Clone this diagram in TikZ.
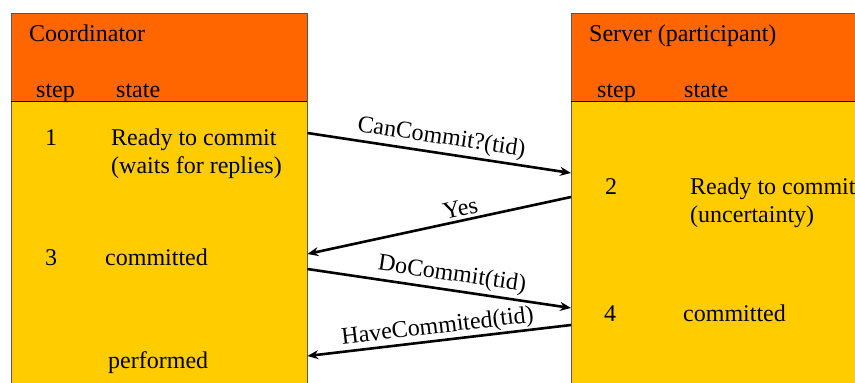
\documentclass[tikz,border=0pt]{standalone}
\usepackage{fontspec}
\setmainfont{Liberation Serif}
\usetikzlibrary{arrows.meta,calc,positioning}
\definecolor{kopf}{HTML}{FF6600}
\definecolor{rumpf}{HTML}{FFCC00}
\tikzset{
    >={Stealth[length=11pt,width=9pt]},
    kasse/.style={
           rectangle,
           draw=gray!70!black, thin,
           anchor=north west,
           inner sep=0pt},
    hoved/.style={
           kasse,
           fill=kopf,
           minimum height=88pt},
    krop/.style={
           kasse,
           fill=rumpf,
           minimum height=300pt},
    txt/.style={
           font=\fontsize{24}{28}\selectfont,
           inner sep=0pt,
           anchor=base west},
    pil/.style={
           ->,
           line width=2.6pt},
    besked/.style={
           font=\fontsize{24}{28}\selectfont,
           sloped, above,
           inner sep=3pt}
}
\begin{document}
\begin{tikzpicture}[x=1pt, y=-1pt]

        \useasboundingbox (0,0) rectangle (855,383);
        \clip (0,0) rectangle (855,383);

        % coordinator side
        \node[krop, minimum width=296pt] (cbody) at (11,101) {};
        \node[hoved, minimum width=296pt] (chead) at (11,13) {};
        \draw[black, thin] (chead.south west) -- (chead.south east);

        % server side
        \node[krop, minimum width=300pt] (sbody) at (571,101) {};
        \node[hoved, minimum width=300pt] (shead) at (571,13) {};
        \draw[black, thin] (shead.south west) -- (shead.south east);

        \node[txt] (ctitle) at (29,41) {Coordinator};
        \node[txt] (cstep) at (36,97) {step};
        \node[txt] (cstate) at (116,97) {state};
        \node[txt] (stitle) at (589,41) {Server (participant)};
        \node[txt] (sstep) at (597,97) {step};
        \node[txt] (sstate) at (684,97) {state};

        \node[txt] (n1) at (45,145) {1};
        \node[txt] (ready) at (111,145) {Ready to commit};
        \node[txt] (waits) at (111,173) {(waits for replies)};
        \node[txt] (n3) at (45,265) {3};
        \node[txt] (ccomm) at (105,265) {committed};
        \node[txt] (perf) at (108,368) {performed};

        \node[txt] (n2) at (605,194) {2};
        \node[txt] (sready) at (690,194) {Ready to commit};
        \node[txt] (uncert) at (690,222) {(uncertainty)};
        \node[txt] (n4) at (604,321) {4};
        \node[txt] (scomm) at (683,321) {committed};

        \coordinate (c1) at (cbody.east |- 0,133);
        \coordinate (s1) at (sbody.west |- 0,173);
        \coordinate (s2) at (sbody.west |- 0,197);
        \coordinate (c2) at (cbody.east |- 0,254);
        \coordinate (c3) at (cbody.east |- 0,269);
        \coordinate (s3) at (sbody.west |- 0,308);
        \coordinate (s4) at (sbody.west |- 0,325);
        \coordinate (c4) at (cbody.east |- 0,356);

        \draw[pil] (c1) -- node[besked] {CanCommit?(tid)} (s1);
        \draw[pil] (s2) -- node[besked, pos=0.41] {Yes} (c2);
        \draw[pil] (c3) -- node[besked, pos=0.54] {DoCommit(tid)} (s3);
        \draw[pil] (s4) -- node[besked, inner sep=1pt] {HaveCommited(tid)} (c4);
    \end{tikzpicture}
\end{document}
